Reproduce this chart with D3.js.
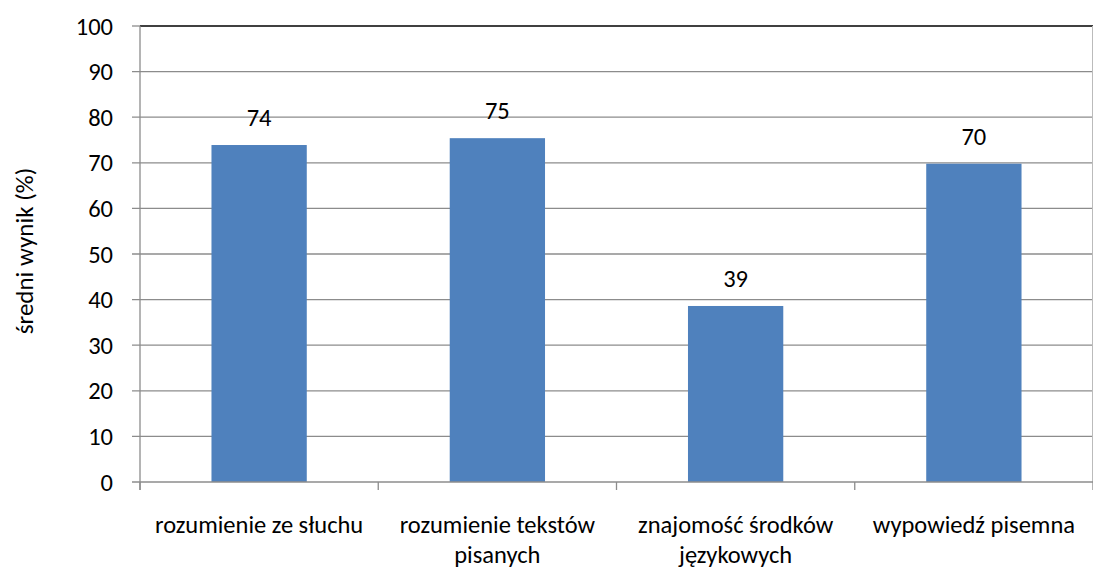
<!DOCTYPE html>
<html><head><meta charset="utf-8">
<script src="https://cdn.jsdelivr.net/npm/d3@7"></script>
<style>body{margin:0;background:#fff}svg{display:block}text{font-family:Carlito,Calibri,"Open Sans",sans-serif}</style>
</head><body><svg id="c" width="1093" height="570"></svg>
<script>
const categories = [["rozumienie ze słuchu"], ["rozumienie tekstów", "pisanych"], ["znajomość środków", "językowych"], ["wypowiedź pisemna"]];
const values = [73.9, 75.4, 38.6, 69.8];
const labels = ["74", "75", "39", "70"];
const yTicks = [0, 10, 20, 30, 40, 50, 60, 70, 80, 90, 100];
const yTitle = "średni wynik (%)";

const svg = d3.select("#c");
const L = 140, R = 1093, T = 26, B = 482;
const FS = 24.5;
const x = d3.scaleBand().domain(d3.range(categories.length)).range([L, R]).paddingInner(0.6).paddingOuter(0.3);
const xb = d3.scaleBand().domain(d3.range(categories.length)).range([L, R]);
const y = d3.scaleLinear().domain([0, 100]).range([B, T]);

// gridlines
svg.append("g").selectAll("line").data(yTicks.filter(d => d > 0 && d < 100)).join("line")
  .attr("x1", L - 8).attr("x2", R).attr("y1", d => y(d)).attr("y2", d => y(d))
  .attr("stroke", "#8c8c8c").attr("stroke-width", 1.3);
svg.append("line").attr("x1", L - 8).attr("x2", L).attr("y1", y(100)).attr("y2", y(100)).attr("stroke", "#8c8c8c").attr("stroke-width", 1.3);
svg.append("line").attr("x1", L).attr("x2", R).attr("y1", y(100)).attr("y2", y(100)).attr("stroke", "#000").attr("stroke-width", 1.5);
svg.append("line").attr("x1", R - 0.5).attr("x2", R - 0.5).attr("y1", T).attr("y2", B).attr("stroke", "#bbb");

// bars
svg.append("g").selectAll("rect").data(values).join("rect")
  .attr("x", (d, i) => x(i)).attr("width", x.bandwidth())
  .attr("y", d => y(d)).attr("height", d => B - y(d))
  .attr("fill", "#4f81bd");

// data labels
svg.append("g").selectAll("text").data(values).join("text")
  .attr("x", (d, i) => x(i) + x.bandwidth() / 2).attr("y", d => y(d) - 19)
  .attr("text-anchor", "middle").attr("font-size", FS).attr("fill", "#000")
  .text((d, i) => labels[i]);

// axes
svg.append("line").attr("x1", L).attr("x2", L).attr("y1", T).attr("y2", B + 8).attr("stroke", "#8c8c8c").attr("stroke-width", 1.3);
svg.append("line").attr("x1", L - 8).attr("x2", R).attr("y1", B).attr("y2", B).attr("stroke", "#8c8c8c").attr("stroke-width", 1.5);
svg.append("g").selectAll("text").data(yTicks).join("text")
  .attr("x", L - 27).attr("y", d => y(d)).attr("dy", "0.35em")
  .attr("text-anchor", "end").attr("font-size", FS).text(d => d);

// x ticks
svg.append("g").selectAll("line").data(d3.range(categories.length + 1)).join("line")
  .attr("x1", i => i < categories.length ? xb(i) : R).attr("x2", i => i < categories.length ? xb(i) : R)
  .attr("y1", B).attr("y2", B + 8).attr("stroke", "#8c8c8c").attr("stroke-width", 1.3);

// category labels
const cl = svg.append("g").selectAll("text").data(categories).join("text")
  .attr("x", (d, i) => xb(i) + xb.bandwidth() / 2).attr("y", 533)
  .attr("text-anchor", "middle").attr("font-size", FS);
cl.selectAll("tspan").data(d => d).join("tspan")
  .attr("x", function() { return d3.select(this.parentNode).attr("x"); })
  .attr("dy", (d, i) => i === 0 ? 0 : 30).text(d => d);

// y title
svg.append("text").attr("transform", "translate(33,251) rotate(-90)")
  .attr("text-anchor", "middle").attr("font-size", 25).text(yTitle);
</script></body></html>
